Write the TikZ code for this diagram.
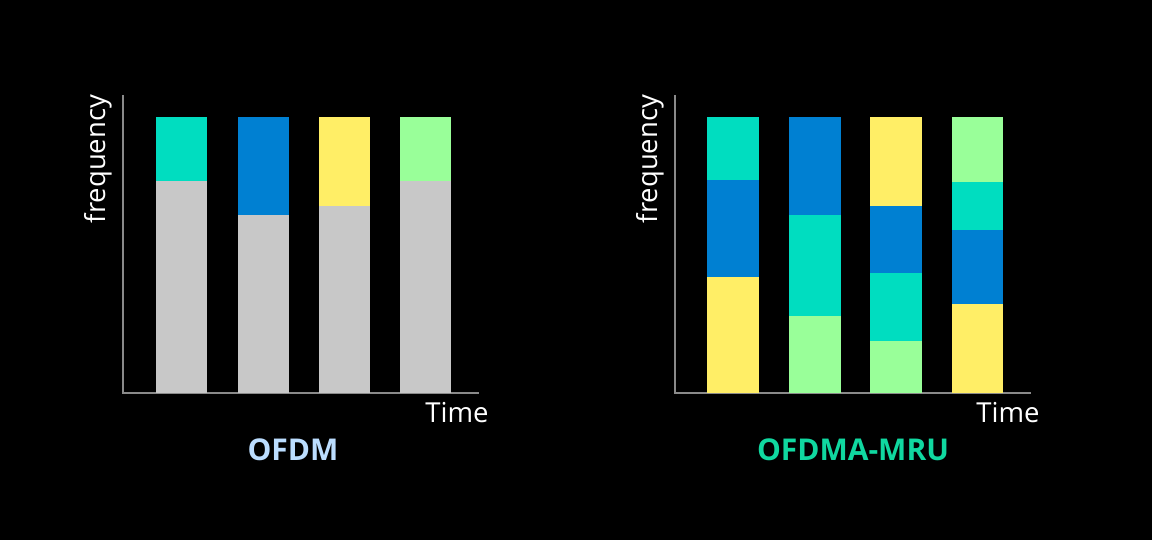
\documentclass[tikz,border=0pt]{standalone}
\usepackage{fontspec}
\setmainfont{Open Sans}
\definecolor{cteal}{HTML}{00DDC0}
\definecolor{cblue}{HTML}{0080D2}
\definecolor{cyellow}{HTML}{FFEE66}
\definecolor{cgreen}{HTML}{99FF99}
\definecolor{cgray}{HTML}{C8C8C8}
\definecolor{caxis}{HTML}{8A8A8A}
\definecolor{clblue}{HTML}{BBDDFF}
\definecolor{cmint}{HTML}{10D8A0}
\begin{document}
\begin{tikzpicture}[x=1pt,y=-1pt,
  axisline/.style={draw=caxis,line width=1.6pt},
  axlabel/.style={text=white,font=\fontsize{27.5}{32}\selectfont,inner sep=0pt},
  title/.style={font=\fontsize{30}{35}\selectfont\bfseries,inner sep=0pt},
  seg/.style={fill=#1,draw=none}]
\fill[black] (0,0) rectangle (1152,540);
\useasboundingbox (0,0) rectangle (1152,540);
% ---------- left panel (OFDM)
\coordinate (L0) at (123,393);
\coordinate (Ltop) at (123,95);
\coordinate (Lend) at (479,393);
\draw[axisline] (Ltop) -- (L0) -- (Lend);
\fill[seg=cteal]   (156,117) rectangle (207,181);
\fill[seg=cgray]   (156,181) rectangle (207,393);
\fill[seg=cblue]   (238,117) rectangle (289,215);
\fill[seg=cgray]   (238,215) rectangle (289,393);
\fill[seg=cyellow] (319,117) rectangle (370,206);
\fill[seg=cgray]   (319,206) rectangle (370,393);
\fill[seg=cgreen]  (400,117) rectangle (451,181);
\fill[seg=cgray]   (400,181) rectangle (451,393);
\node[axlabel,rotate=90] (Lfreq) at (98,159) {frequency};
\node[axlabel] (Ltime) at (457,413) {Time};
\node[title,text=clblue] (Ltitle) at (293,450) {OFDM};
% ---------- right panel (OFDMA-MRU)
\coordinate (R0) at (675,393);
\coordinate (Rtop) at (675,95);
\coordinate (Rend) at (1031,393);
\draw[axisline] (Rtop) -- (R0) -- (Rend);
\fill[seg=cteal]   (707,117) rectangle (759,180);
\fill[seg=cblue]   (707,180) rectangle (759,277);
\fill[seg=cyellow] (707,277) rectangle (759,393);
\fill[seg=cblue]   (789,117) rectangle (841,215);
\fill[seg=cteal]   (789,215) rectangle (841,316);
\fill[seg=cgreen]  (789,316) rectangle (841,393);
\fill[seg=cyellow] (870,117) rectangle (922,206);
\fill[seg=cblue]   (870,206) rectangle (922,273);
\fill[seg=cteal]   (870,273) rectangle (922,341);
\fill[seg=cgreen]  (870,341) rectangle (922,393);
\fill[seg=cgreen]  (952,117) rectangle (1003,182);
\fill[seg=cteal]   (952,182) rectangle (1003,230);
\fill[seg=cblue]   (952,230) rectangle (1003,304);
\fill[seg=cyellow] (952,304) rectangle (1003,393);
\node[axlabel,rotate=90] (Rfreq) at (650,159) {frequency};
\node[axlabel] (Rtime) at (1008,413) {Time};
\node[title,text=cmint] (Rtitle) at (853,450) {OFDMA-MRU};
\end{tikzpicture}
\end{document}
